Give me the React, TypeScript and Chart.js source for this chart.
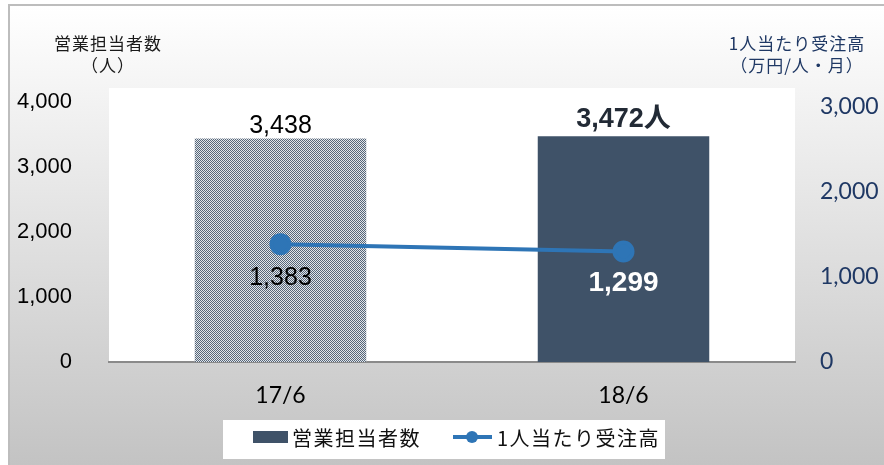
import React, { useEffect, useRef } from "react";
import { Chart, registerables } from "chart.js";

Chart.register(...registerables);

const categories = ["17/6", "18/6"];
const staffCounts = [3438, 3472];
const ordersPerPerson = [1383, 1299];
const leftTicks = [0, 1000, 2000, 3000, 4000];
const rightTicks = [0, 1000, 2000, 3000];
const barLabelSuffix = ["", "人"];
const barLabelBold = [false, true];
const lineLabelBold = [false, true];
const seriesNames = ["営業担当者数", "1人当たり受注高"];
const leftTitle = ["営業担当者数", "（人）"];
const rightTitle = ["1人当たり受注高", "（万円/人・月）"];

const NAVY = "#3f5268";
const LINE = "#2e75b6";
const TITLE_NAVY = "#1f3864";
const ARIAL = "'Liberation Sans', Arial, 'Noto Sans CJK JP', sans-serif";
const CJK = "'Noto Sans CJK JP', 'Noto Sans', sans-serif";
const CAL = "Lato, 'Open Sans', sans-serif";

function makePattern(): CanvasPattern | string {
  const c = document.createElement("canvas");
  c.width = 2;
  c.height = 2;
  const x = c.getContext("2d");
  if (!x) return "#9aa3ae";
  x.fillStyle = "#e2e5e9";
  x.fillRect(0, 0, 2, 2);
  x.fillStyle = "#566679";
  x.fillRect(0, 0, 1, 1);
  x.fillRect(1, 1, 1, 1);
  return x.createPattern(c, "repeat") || "#9aa3ae";
}

const fmt = (v: number) => v.toLocaleString("en-US");

export default function App() {
  const ref = useRef<HTMLCanvasElement | null>(null);
  useEffect(() => {
    document.body.style.margin = "0";
    const canvas = ref.current;
    if (!canvas) return;
    const pattern = makePattern();

    const bgPlugin = {
      id: "bg",
      beforeDraw(chart: any) {
        const { ctx, chartArea } = chart;
        const W = chart.width;
        const H = chart.height;
        ctx.save();
        ctx.fillStyle = "#ffffff";
        ctx.fillRect(0, 0, W, H);
        const g = ctx.createLinearGradient(0, 5, 0, H);
        g.addColorStop(0, "#ffffff");
        g.addColorStop(1, "#c3c3c3");
        ctx.fillStyle = g;
        ctx.fillRect(8, 5, W - 8, H - 5);
        ctx.fillStyle = "#bdbdbd";
        ctx.fillRect(8, 4, W - 8, 2);
        ctx.fillRect(8, 4, 2, H - 4);
        ctx.fillStyle = "#ffffff";
        ctx.fillRect(chartArea.left, chartArea.top, chartArea.right - chartArea.left, chartArea.bottom - chartArea.top);
        ctx.restore();
      },
      afterDraw(chart: any) {
        const { ctx } = chart;
        ctx.save();
        // axis titles
        ctx.textAlign = "center";
        ctx.textBaseline = "middle";
        ctx.font = `17px ${CJK}`;
        (ctx as any).letterSpacing = "1px";
        ctx.fillStyle = "#1a1a1a";
        ctx.fillText(leftTitle[0], 108, 44);
        ctx.fillText(leftTitle[1], 108, 66);
        ctx.fillStyle = TITLE_NAVY;
        ctx.fillText(rightTitle[0], 797, 44);
        ctx.fillText(rightTitle[1], 797, 66);

        // data labels
        (ctx as any).letterSpacing = "0px";
        const barMeta = chart.getDatasetMeta(1);
        barMeta.data.forEach((el: any, i: number) => {
          const bold = barLabelBold[i];
          ctx.font = `${bold ? "bold 27px" : "25px"} ${ARIAL}`;
          ctx.fillStyle = bold ? "#222a35" : "#000000";
          ctx.textBaseline = "alphabetic";
          ctx.fillText(fmt(staffCounts[i]) + barLabelSuffix[i], el.x, el.y - (bold ? 9 : 6));
        });
        const lineMeta = chart.getDatasetMeta(0);
        lineMeta.data.forEach((el: any, i: number) => {
          const bold = lineLabelBold[i];
          ctx.font = `${bold ? "bold 28px" : "25px"} ${ARIAL}`;
          ctx.fillStyle = bold ? "#ffffff" : "#000000";
          ctx.textBaseline = "middle";
          ctx.fillText(fmt(ordersPerPerson[i]), el.x, el.y + (bold ? 32 : 34));
        });

        // legend
        ctx.fillStyle = "#ffffff";
        ctx.fillRect(223, 420, 442, 39);
        ctx.fillStyle = NAVY;
        ctx.fillRect(253, 431, 35, 12);
        ctx.textAlign = "left";
        ctx.textBaseline = "middle";
        ctx.font = `20px ${CJK}`;
        (ctx as any).letterSpacing = "1.5px";
        ctx.fillStyle = "#111111";
        ctx.fillText(seriesNames[0], 292, 438);
        ctx.strokeStyle = LINE;
        ctx.lineWidth = 4;
        ctx.beginPath();
        ctx.moveTo(453, 437);
        ctx.lineTo(492, 437);
        ctx.stroke();
        ctx.fillStyle = LINE;
        ctx.beginPath();
        ctx.arc(472, 437, 6, 0, Math.PI * 2);
        ctx.fill();
        ctx.fillStyle = "#111111";
        ctx.fillText(seriesNames[1], 497, 438);
        ctx.restore();
      },
    };

    const chart = new Chart(canvas, {
      type: "bar",
      data: {
        labels: categories,
        datasets: [
          {
            type: "line",
            label: seriesNames[1],
            data: ordersPerPerson,
            yAxisID: "y1",
            borderColor: LINE,
            backgroundColor: LINE,
            borderWidth: 4,
            pointRadius: 9,
            pointHoverRadius: 9,
            pointBackgroundColor: LINE,
            pointBorderColor: LINE,
            order: 0,
          } as any,
          {
            type: "bar",
            label: seriesNames[0],
            data: staffCounts,
            yAxisID: "y",
            backgroundColor: [pattern, NAVY] as any,
            barPercentage: 0.5,
            categoryPercentage: 1,
            order: 1,
          },
        ],
      },
      options: {
        responsive: false,
        animation: false,
        layout: { padding: { top: 88, left: 0, right: 0, bottom: 0 } },
        plugins: { legend: { display: false }, tooltip: { enabled: false } },
        scales: {
          x: {
            grid: { display: false },
            border: { display: true, color: "#8a8a8a", width: 2 },
            ticks: { font: { family: CAL, size: 23 }, color: "#000", padding: 12 },
            afterFit(s: any) {
              s.height = 103;
            },
          },
          y: {
            position: "left",
            min: 0,
            max: 4215,
            grid: { display: false },
            border: { display: false },
            ticks: { font: { family: ARIAL, size: 22 }, color: "#000", padding: 29, callback: (v: any) => fmt(Number(v)) },
            afterBuildTicks(s: any) {
              s.ticks = leftTicks.map((v) => ({ value: v }));
            },
            afterFit(s: any) {
              s.width = 109;
            },
          },
          y1: {
            position: "right",
            min: 0,
            max: 3220,
            grid: { display: false },
            border: { display: false },
            ticks: { font: { family: CAL, size: 23 }, color: TITLE_NAVY, padding: 17, callback: (v: any) => fmt(Number(v)) },
            afterBuildTicks(s: any) {
              s.ticks = rightTicks.map((v) => ({ value: v }));
            },
            afterFit(s: any) {
              s.width = 89;
            },
          },
        },
      },
      plugins: [bgPlugin],
    });
    return () => chart.destroy();
  }, []);
  return <canvas ref={ref} width={884} height={465} style={{ display: "block" }} />;
}
